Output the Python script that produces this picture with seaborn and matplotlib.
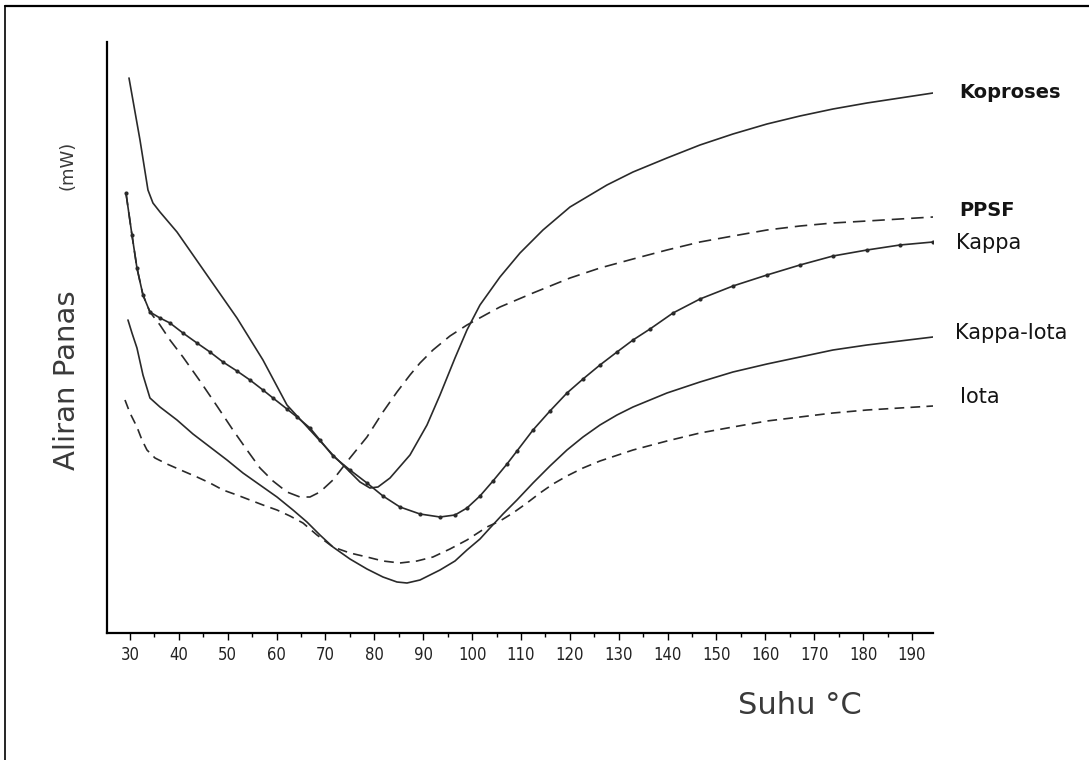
import numpy as np
import pandas as pd
import matplotlib
matplotlib.use("Agg")
import matplotlib.pyplot as plt
from matplotlib.lines import Line2D
import seaborn as sns

# ---------------- data (y = heat flow in arbitrary units) ----------------
koproses_x = [29.80, 32.05, 33.68, 34.70, 36.14, 39.62, 45.75, 51.89, 57.21, 62.12, 66.83,
              71.53, 75.01, 77.06, 79.10, 80.74, 83.20, 87.29, 90.77, 93.43, 96.50, 98.95,
              101.61, 105.70, 109.80, 114.50, 120.03, 127.59, 132.92, 139.87, 146.62,
              153.37, 160.33, 167.08, 173.84, 180.79, 187.54, 194.30]
koproses_y = [555, 493, 443, 430, 421, 401, 358, 315, 273, 228, 203,
              178, 161, 151, 145, 146, 155, 178, 208, 238, 275, 303,
              328, 356, 380, 403, 426, 448, 461, 475, 488,
              499, 509, 517, 524, 530, 535, 540]

ppsf_x = [29.18, 30.41, 31.43, 32.66, 34.09, 36.14, 38.18, 40.84, 44.32, 47.80, 51.07, 53.94,
          56.60, 59.26, 62.12, 64.78, 66.83, 68.87, 71.53, 75.01, 78.49, 81.76, 84.63, 87.29,
          89.34, 91.99, 95.47, 98.95, 103.04, 105.70, 112.46, 120.03, 126.16, 132.92, 139.87,
          146.62, 153.37, 160.33, 167.08, 173.84, 180.79, 187.54, 194.30]
ppsf_y = [440, 398, 365, 338, 321, 308, 293, 276, 252, 227, 203, 183,
          165, 152, 141, 136, 136, 141, 153, 175, 196, 221, 241, 258,
          270, 283, 297, 308, 319, 326, 340, 355, 365, 374, 383,
          391, 397, 403, 407, 410, 412, 414, 416]

kappa_x = [29.18, 30.41, 31.43, 32.66, 34.09, 36.14, 38.18, 40.84, 43.71, 46.37, 49.03, 51.89,
           54.55, 57.21, 59.26, 62.12, 64.17, 66.83, 68.87, 71.53, 75.01, 78.49, 81.76, 85.24,
           89.34, 93.43, 96.50, 98.95, 101.61, 104.27, 107.14, 109.18, 112.46, 115.93, 119.41,
           122.69, 126.16, 129.64, 132.92, 136.40, 141.10, 146.62, 153.37, 160.33, 167.08,
           173.84, 180.79, 187.54, 194.30]
kappa_y = [440, 398, 365, 338, 321, 315, 310, 300, 290, 281, 271, 262,
           253, 243, 235, 224, 216, 205, 193, 177, 163, 150, 137, 126,
           119, 116, 118, 125, 137, 152, 169, 182, 203, 222, 240,
           254, 268, 281, 293, 304, 320, 334, 347, 358, 368,
           377, 383, 388, 391]

kappa_iota_x = [29.59, 30.41, 31.43, 32.66, 34.09, 36.14, 39.62, 42.89, 46.37, 49.85, 53.12,
                56.60, 60.08, 63.35, 66.21, 68.87, 71.53, 75.01, 78.49, 81.76, 84.63, 86.68,
                89.34, 93.43, 96.50, 98.95, 101.61, 103.66, 106.32, 109.18, 112.46, 115.93,
                119.41, 122.69, 126.16, 129.64, 132.92, 139.87, 146.62, 153.37, 160.33,
                167.08, 173.84, 180.79, 187.54, 194.30]
kappa_iota_y = [313, 300, 285, 258, 235, 226, 213, 199, 186, 173, 160,
                148, 136, 123, 111, 98, 86, 74, 64, 56, 51, 50,
                53, 63, 72, 83, 94, 105, 119, 133, 150, 167,
                183, 196, 208, 218, 226, 240, 251, 261, 269,
                276, 283, 288, 292, 296]

iota_x = [28.98, 30.00, 31.43, 32.46, 33.48, 35.12, 37.57, 40.84, 43.71, 46.37, 49.03, 51.89,
          54.55, 57.21, 60.08, 62.74, 65.40, 68.26, 71.53, 75.01, 78.49, 81.76, 85.24, 88.72,
          91.99, 95.47, 98.95, 103.04, 105.70, 108.36, 111.22, 113.89, 116.55, 119.41, 122.69,
          126.16, 132.92, 139.87, 146.62, 153.37, 160.33, 167.08, 173.84, 180.79, 187.54,
          194.30]
iota_y = [233, 220, 206, 193, 183, 175, 169, 162, 156, 150, 143, 138,
          133, 128, 123, 117, 110, 98, 86, 80, 76, 72, 70, 72,
          76, 84, 93, 106, 112, 120, 130, 140, 149, 157, 165,
          172, 183, 192, 200, 206, 212, 216, 220, 223, 225,
          227]

series_names = ["Koproses", "PPSF", "Kappa", "Kappa-Iota", "Iota"]
x_ticks = list(range(30, 200, 10))
x_label = "Suhu °C"
y_label = "Aliran Panas"
y_unit = "(mW)"

# ---------------- styling / layout ----------------
sns.set_theme(style="white")
plt.rcParams["font.family"] = ["DejaVu Sans"]
plt.rcParams["lines.scale_dashes"] = False

W, H = 1089, 760
fig = plt.figure(figsize=(W / 100, H / 100), dpi=100)
ax = fig.add_axes([107 / W, 1 - 633 / H, (933 - 107) / W, (633 - 42) / H])

ink = "#2a2a2a"
styles = {
    "Koproses": dict(linestyle="-"),
    "PPSF": dict(linestyle=(0, (9, 5))),
    "Kappa": dict(linestyle="-", marker="o", markersize=3.0, markeredgewidth=0),
    "Kappa-Iota": dict(linestyle="-"),
    "Iota": dict(linestyle=(0, (7, 4.5))),
}
data = {
    "Koproses": (koproses_x, koproses_y),
    "PPSF": (ppsf_x, ppsf_y),
    "Kappa": (kappa_x, kappa_y),
    "Kappa-Iota": (kappa_iota_x, kappa_iota_y),
    "Iota": (iota_x, iota_y),
}
# label placement in pixels (left edge x, vertical centre y), weight and size
label_pos = {
    "Koproses": (959, 93, "bold", 14),
    "PPSF": (959, 210, "bold", 14),
    "Kappa": (956, 243, "normal", 15),
    "Kappa-Iota": (955, 333, "normal", 15),
    "Iota": (960, 397, "normal", 15),
}

for name in series_names:
    xs, ys = data[name]
    df = pd.DataFrame({"suhu": xs, "aliran": ys})
    sns.lineplot(data=df, x="suhu", y="aliran", ax=ax, color=ink, linewidth=1.2,
                 estimator=None, sort=False, **styles[name])
    px, py, wt, fs = label_pos[name]
    fig.text(px / W, 1 - py / H, name, fontsize=fs, color="#141414",
             fontweight=wt, va="center", ha="left")

ax.set_xlim(25.3, 194.3)
ax.set_ylim(0, 591)

ax.set_xticks(x_ticks)
ax.set_xticks(np.arange(35, 195, 10), minor=True)
ax.set_xticklabels([str(t) for t in x_ticks], fontsize=12,
                   family=["DejaVu Sans"], fontstretch="condensed", color="#222222")
ax.tick_params(axis="x", which="major", direction="out", length=5, width=1, color="black",
               bottom=True, pad=4)
ax.tick_params(axis="x", which="minor", direction="out", length=3, width=1, color="black",
               bottom=True)
ax.set_yticks([])
ax.set_xlabel("")
ax.set_ylabel("")

for side in ("top", "right"):
    ax.spines[side].set_visible(False)
for side in ("left", "bottom"):
    ax.spines[side].set_color("black")
    ax.spines[side].set_linewidth(1.6)

# axis titles
fig.text(738 / W, 1 - 705 / H, x_label, fontsize=22, color="#3a3a3a", ha="left", va="center")
fig.text(67 / W, 1 - 380 / H, y_label, fontsize=21, color="#3a3a3a", rotation=90,
         ha="center", va="center")
fig.text(67 / W, 1 - 165 / H, y_unit, fontsize=13, color="#3a3a3a", rotation=90,
         ha="center", va="center")

# page frame (top and left edges of the scanned page)
fig.add_artist(Line2D([5 / W, 1.0], [1 - 6 / H, 1 - 6 / H], color="black", linewidth=1.6))
fig.add_artist(Line2D([5 / W, 5 / W], [0.0, 1 - 6 / H], color="black", linewidth=1.2))

fig.savefig("out.png", dpi=100)
